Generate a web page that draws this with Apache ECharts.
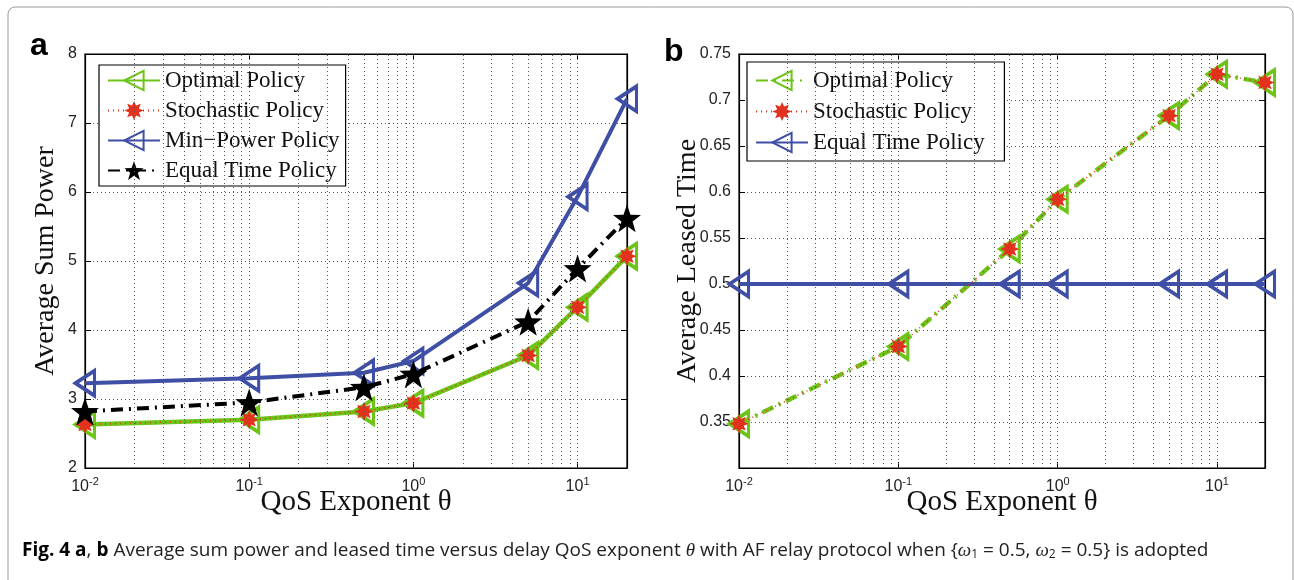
<!DOCTYPE html>
<html>
<head>
<meta charset="utf-8">
<script src="https://cdn.jsdelivr.net/npm/echarts@6/dist/echarts.min.js"></script>
<style>
  html, body { margin: 0; padding: 0; background: #fff; }
  #chart { width: 1294px; height: 580px; }
</style>
</head>
<body>
<div id="chart"></div>
<script>
// QoS exponent values (x), shared by both panels
const theta = [0.01, 0.1, 0.5, 1, 5, 10, 20];

// panel a: average sum power
const powerOptimal = [2.63, 2.70, 2.82, 2.94, 3.63, 4.33, 5.07];
const powerStochastic = [2.63, 2.70, 2.82, 2.94, 3.63, 4.33, 5.07];
const powerMinPower = [3.23, 3.30, 3.38, 3.55, 4.68, 5.93, 7.35];
const powerEqualTime = [2.82, 2.95, 3.17, 3.36, 4.12, 4.89, 5.62];

// panel b: average leased time
const timeOptimal = [0.348, 0.432, 0.538, 0.592, 0.683, 0.728, 0.719];
const timeStochastic = [0.348, 0.432, 0.538, 0.592, 0.683, 0.728, 0.719];
const timeEqual = [0.5, 0.5, 0.5, 0.5, 0.5, 0.5, 0.5];

// log grid positions (minor + major) on the x axis
const xGrid = [0.02, 0.03, 0.04, 0.05, 0.06, 0.07, 0.08, 0.09,
  0.1, 0.2, 0.3, 0.4, 0.5, 0.6, 0.7, 0.8, 0.9,
  1, 2, 3, 4, 5, 6, 7, 8, 9, 10];

const GREEN = "#6cc417";
const RED = "#e2311d";
const BLUE = "#3f4fa6";
const serif = "'Liberation Serif', 'DejaVu Serif', serif";
const sans = "'Liberation Sans', Arial, sans-serif";

function polyPath(n, rOut, rIn, rot) {
  const pts = [];
  for (let k = 0; k < n * 2; k++) {
    const a = rot + (k * Math.PI) / n;
    const r = k % 2 === 0 ? rOut : rIn;
    pts.push((r * Math.cos(a)).toFixed(2) + " " + (r * Math.sin(a)).toFixed(2));
  }
  return "path://M" + pts.join(" L") + " Z";
}
const asterisk = polyPath(8, 10, 5.5, -Math.PI / 2);
const star = polyPath(5, 10, 4, -Math.PI / 2);

function pairs(ys) {
  return theta.map((x, i) => [x, ys[i]]);
}

function logLabel(v) {
  const e = Math.round(Math.log10(v));
  if (Math.abs(Math.log10(v) - e) > 1e-6) return "";
  return "{b|10}{s|" + e + "}";
}

const dotted = [1, 3];
const gridLine = { color: "#555", width: 1, type: dotted };

function xAxes(gridIndex) {
  const base = {
    type: "log",
    logBase: 10,
    min: 0.01,
    max: 20,
    gridIndex,
    splitLine: { show: false },
    axisLine: { onZero: false, lineStyle: { color: "#000", width: 1.2 } },
    axisTick: { inside: true, length: 6, lineStyle: { color: "#000" } },
  };
  return [
    {
      ...base,
      position: "bottom",
      name: "QoS Exponent θ",
      nameLocation: "middle",
      nameGap: 20,
      nameMoveOverlap: false,
      nameTextStyle: { fontFamily: serif, fontSize: 29, color: "#111" },
      axisLabel: {
        formatter: logLabel,
        margin: 8,
        rich: {
          b: { fontFamily: sans, fontSize: 16, color: "#222" },
          s: { fontFamily: sans, fontSize: 11, color: "#222", padding: [0, 0, 10, 0] },
        },
      },
    },
    { ...base, position: "top", axisLabel: { show: false } },
  ];
}

function yAxes(gridIndex, opt) {
  const base = {
    type: "value",
    gridIndex,
    min: opt.min,
    max: opt.max,
    interval: opt.interval,
    axisLine: { show: true, onZero: false, lineStyle: { color: "#000", width: 1.2 } },
    axisTick: { show: true, inside: true, length: 6, lineStyle: { color: "#000" } },
  };
  return [
    {
      ...base,
      position: "left",
      name: opt.name,
      nameLocation: "middle",
      nameGap: opt.nameGap,
      nameMoveOverlap: false,
      nameTextStyle: { fontFamily: serif, fontSize: 28, color: "#111" },
      splitLine: { show: true, lineStyle: gridLine },
      axisLabel: {
        fontFamily: sans,
        fontSize: 16,
        color: "#222",
        margin: 8,
        showMinLabel: opt.showMin,
        formatter: (v) => String(+v.toFixed(2)),
      },
    },
    { ...base, position: "right", splitLine: { show: false }, axisLabel: { show: false } },
  ];
}

const triSize = [25, 19];

function gridSeries(xi, yi) {
  return {
    type: "line",
    xAxisIndex: xi,
    yAxisIndex: yi,
    data: [],
    silent: true,
    z: 1,
    markLine: {
      silent: true,
      symbol: ["none", "none"],
      label: { show: false },
      lineStyle: gridLine,
      data: xGrid.map((v) => ({ xAxis: v })),
      animation: false,
    },
  };
}

const legendText = { fontFamily: serif, fontSize: 23, color: "#111" };

const option = {
  animation: false,
  backgroundColor: "#fff",
  grid: [
    { left: 85, top: 54, width: 542, height: 414, show: true, borderColor: "#000", borderWidth: 1.2, backgroundColor: "transparent" },
    { left: 739, top: 54, width: 526, height: 414, show: true, borderColor: "#000", borderWidth: 1.2, backgroundColor: "transparent" },
  ],
  xAxis: [...xAxes(0), ...xAxes(1)],
  yAxis: [
    ...yAxes(0, { min: 2, max: 8, interval: 1, name: "Average Sum Power", nameGap: 25, showMin: true }),
    ...yAxes(1, { min: 0.3, max: 0.75, interval: 0.05, name: "Average Leased Time", nameGap: 37, showMin: false }),
  ],
  legend: [
    {
      data: ["Optimal Policy", "Stochastic Policy", "Min−Power Policy", "Equal Time Policy"],
      left: 99,
      top: 65,
      orient: "vertical",
      itemWidth: 52,
      itemHeight: 24,
      itemGap: 7,
      padding: [4, 6, 4, 8],
      borderColor: "#000",
      borderWidth: 1.2,
      backgroundColor: "#fff",
      textStyle: legendText,
    },
    {
      data: ["Optimal Policy ", "Stochastic Policy ", "Equal Time Policy "],
      left: 747,
      top: 62,
      orient: "vertical",
      itemWidth: 52,
      itemHeight: 24,
      itemGap: 8,
      padding: [7, 14, 7, 8],
      borderColor: "#000",
      borderWidth: 1.2,
      backgroundColor: "#fff",
      textStyle: legendText,
    },
  ],
  graphic: [
    {
      type: "rect",
      shape: { x: 8, y: 7, width: 1285, height: 600, r: 7 },
      style: { fill: "none", stroke: "#999", lineWidth: 1 },
      silent: true,
    },
    { type: "text", left: 30, top: 30, style: { text: "a", font: "bold 32px " + sans, fill: "#000" } },
    { type: "text", left: 664, top: 36, style: { text: "b", font: "bold 32px " + sans, fill: "#000" } },
    {
      type: "text",
      left: 22,
      top: 541,
      style: {
        text: "{bf|Fig. 4 a}, {bf|b} Average sum power and leased time versus delay QoS exponent {it|θ} with AF relay protocol when {{it|ω}{sub|1} = 0.5, {it|ω}{sub|2} = 0.5} is adopted",
        fontFamily: "'Open Sans', sans-serif",
        fontSize: 19,
        fill: "#222",
        rich: {
          bf: { fontFamily: "'Open Sans', sans-serif", fontSize: 19, fontWeight: "bold", fill: "#000" },
          it: { fontFamily: "'Liberation Serif', serif", fontSize: 19, fontStyle: "italic", fill: "#222" },
          sub: { fontFamily: "'Open Sans', sans-serif", fontSize: 12, fill: "#222", padding: [8, 0, 0, 0] },
        },
      },
    },
  ],
  series: [
    gridSeries(0, 0),
    gridSeries(2, 2),
    // panel a
    {
      name: "Optimal Policy",
      type: "line",
      xAxisIndex: 0,
      yAxisIndex: 0,
      data: pairs(powerOptimal),
      symbol: "triangle",
      symbolRotate: 90,
      symbolSize: triSize,
      lineStyle: { color: GREEN, width: 4.5 },
      itemStyle: { color: "rgba(0,0,0,0)", borderColor: GREEN, borderWidth: 3.5 },
      z: 3,
    },
    {
      name: "Stochastic Policy",
      type: "line",
      xAxisIndex: 0,
      yAxisIndex: 0,
      data: pairs(powerStochastic),
      symbol: asterisk,
      symbolSize: 19,
      lineStyle: { color: RED, width: 1.5, type: [1, 4] },
      itemStyle: { color: RED },
      z: 4,
    },
    {
      name: "Min−Power Policy",
      type: "line",
      xAxisIndex: 0,
      yAxisIndex: 0,
      data: pairs(powerMinPower),
      symbol: "triangle",
      symbolRotate: 90,
      symbolSize: triSize,
      lineStyle: { color: BLUE, width: 4 },
      itemStyle: { color: "rgba(0,0,0,0)", borderColor: BLUE, borderWidth: 3.5 },
      z: 3,
    },
    {
      name: "Equal Time Policy",
      type: "line",
      xAxisIndex: 0,
      yAxisIndex: 0,
      data: pairs(powerEqualTime),
      symbol: star,
      symbolSize: 28,
      lineStyle: { color: "#000", width: 4, type: [12, 6, 2, 6] },
      itemStyle: { color: "#000" },
      z: 5,
    },
    // panel b
    {
      name: "Optimal Policy ",
      type: "line",
      xAxisIndex: 2,
      yAxisIndex: 2,
      data: pairs(timeOptimal),
      symbol: "triangle",
      symbolRotate: 90,
      symbolSize: triSize,
      lineStyle: { color: GREEN, width: 4.5, type: [12, 6, 2, 6] },
      itemStyle: { color: "rgba(0,0,0,0)", borderColor: GREEN, borderWidth: 3.5 },
      z: 3,
    },
    {
      name: "Stochastic Policy ",
      type: "line",
      xAxisIndex: 2,
      yAxisIndex: 2,
      data: pairs(timeStochastic),
      symbol: asterisk,
      symbolSize: 19,
      lineStyle: { color: RED, width: 1.5, type: [1, 4] },
      itemStyle: { color: RED },
      z: 4,
    },
    {
      name: "Equal Time Policy ",
      type: "line",
      xAxisIndex: 2,
      yAxisIndex: 2,
      data: pairs(timeEqual),
      symbol: "triangle",
      symbolRotate: 90,
      symbolSize: triSize,
      lineStyle: { color: BLUE, width: 4 },
      itemStyle: { color: "rgba(0,0,0,0)", borderColor: BLUE, borderWidth: 3.5 },
      z: 3,
    },
  ],
};

const chart = echarts.init(document.getElementById("chart"));
chart.setOption(option);
</script>
</body>
</html>
